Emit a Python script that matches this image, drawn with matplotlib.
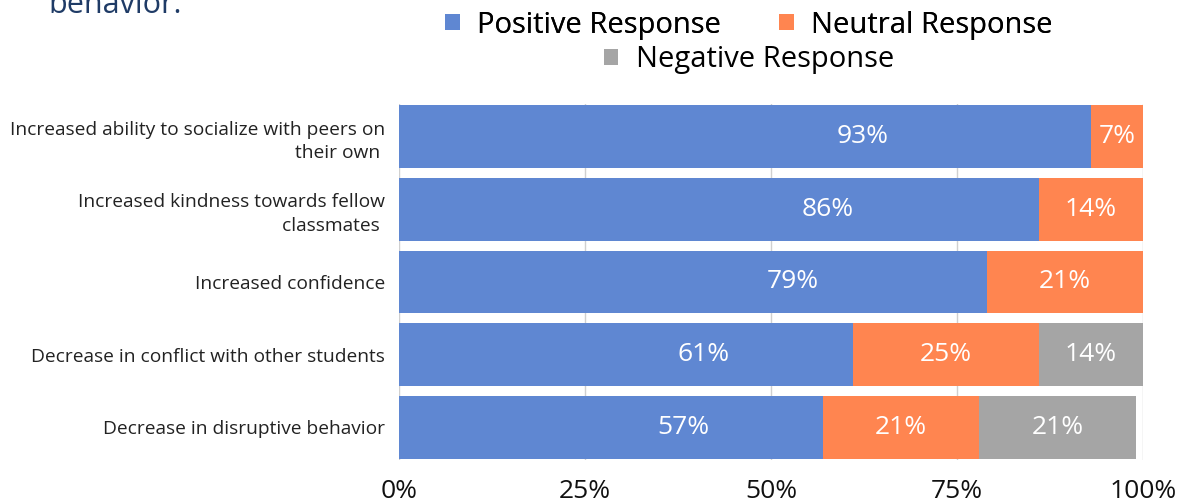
import matplotlib
matplotlib.use("Agg")
import matplotlib.pyplot as plt
import numpy as np

plt.rcParams['font.family'] = ['Open Sans', 'DejaVu Sans']

categories = [
    "Increased ability to socialize with peers on\ntheir own ",
    "Increased kindness towards fellow\nclassmates ",
    "Increased confidence",
    "Decrease in conflict with other students",
    "Decrease in disruptive behavior",
]
positive = [93, 86, 79, 61, 57]
neutral = [7, 14, 21, 25, 21]
negative = [0, 0, 0, 14, 21]
series_names = ["Positive Response", "Neutral Response", "Negative Response"]
colors = ["#5f87d2", "#ff8550", "#a5a5a5"]
label_pos = [0.67, 0.5, 0.5]  # where the value label sits inside each segment
xticks = [0, 25, 50, 75, 100]

fig = plt.figure(figsize=(11.88, 5.04), dpi=100)
ax = fig.add_axes([399 / 1188, 1 - 460 / 504, 744 / 1188, 356 / 504])

y = np.arange(len(categories))
left = np.zeros(len(categories))
bars = []
for vals, name, c, lp in zip([positive, neutral, negative], series_names, colors, label_pos):
    vals = np.array(vals, dtype=float)
    b = ax.barh(y, vals, left=left, height=0.866, color=c, label=name, zorder=2)
    bars.append(b)
    for yi, (l, v) in enumerate(zip(left, vals)):
        if v > 0:
            ax.text(l + v * lp, yi, f"{int(v)}%", ha="center", va="center",
                    color="white", fontsize=19, zorder=4)
    left += vals

ax.set_xlim(0, 100)
ax.set_ylim(len(categories) - 0.55, -0.45)
ax.set_yticks(y)
ax.set_yticklabels(categories, fontsize=13.8, color="#222222", linespacing=1.4)
ax.set_xticks(xticks)
ax.set_xticklabels([f"{t}%" for t in xticks], fontsize=19, color="#111111")
ax.tick_params(axis="both", length=0)
ax.tick_params(axis="x", pad=14)
ax.tick_params(axis="y", pad=10)
ax.xaxis.grid(True, color="#d0d0d0", linewidth=1, zorder=0)
ax.set_axisbelow(True)
for s in ax.spines.values():
    s.set_visible(False)

# legend: two entries on first row, third centered below
leg1 = fig.legend(handles=bars[:2], labels=series_names[:2], loc="center",
                  bbox_to_anchor=(749 / 1188, 1 - 25 / 504), ncol=2, frameon=False,
                  fontsize=21, handlelength=0.5, handleheight=0.5,
                  handletextpad=0.6, columnspacing=2.0, borderpad=0)
fig.add_artist(leg1)
fig.legend(handles=bars[2:], labels=series_names[2:], loc="center",
           bbox_to_anchor=(749 / 1188, 1 - 60 / 504), ncol=1, frameon=False,
           fontsize=21, handlelength=0.5, handleheight=0.5,
           handletextpad=0.6, borderpad=0)

# cut-off slide title fragment
fig.text(48 / 1188, 1 - 13 / 504, "behavior.", fontsize=22, color="#1f3b66",
         ha="left", va="baseline")

fig.savefig("out.png", dpi=100)
